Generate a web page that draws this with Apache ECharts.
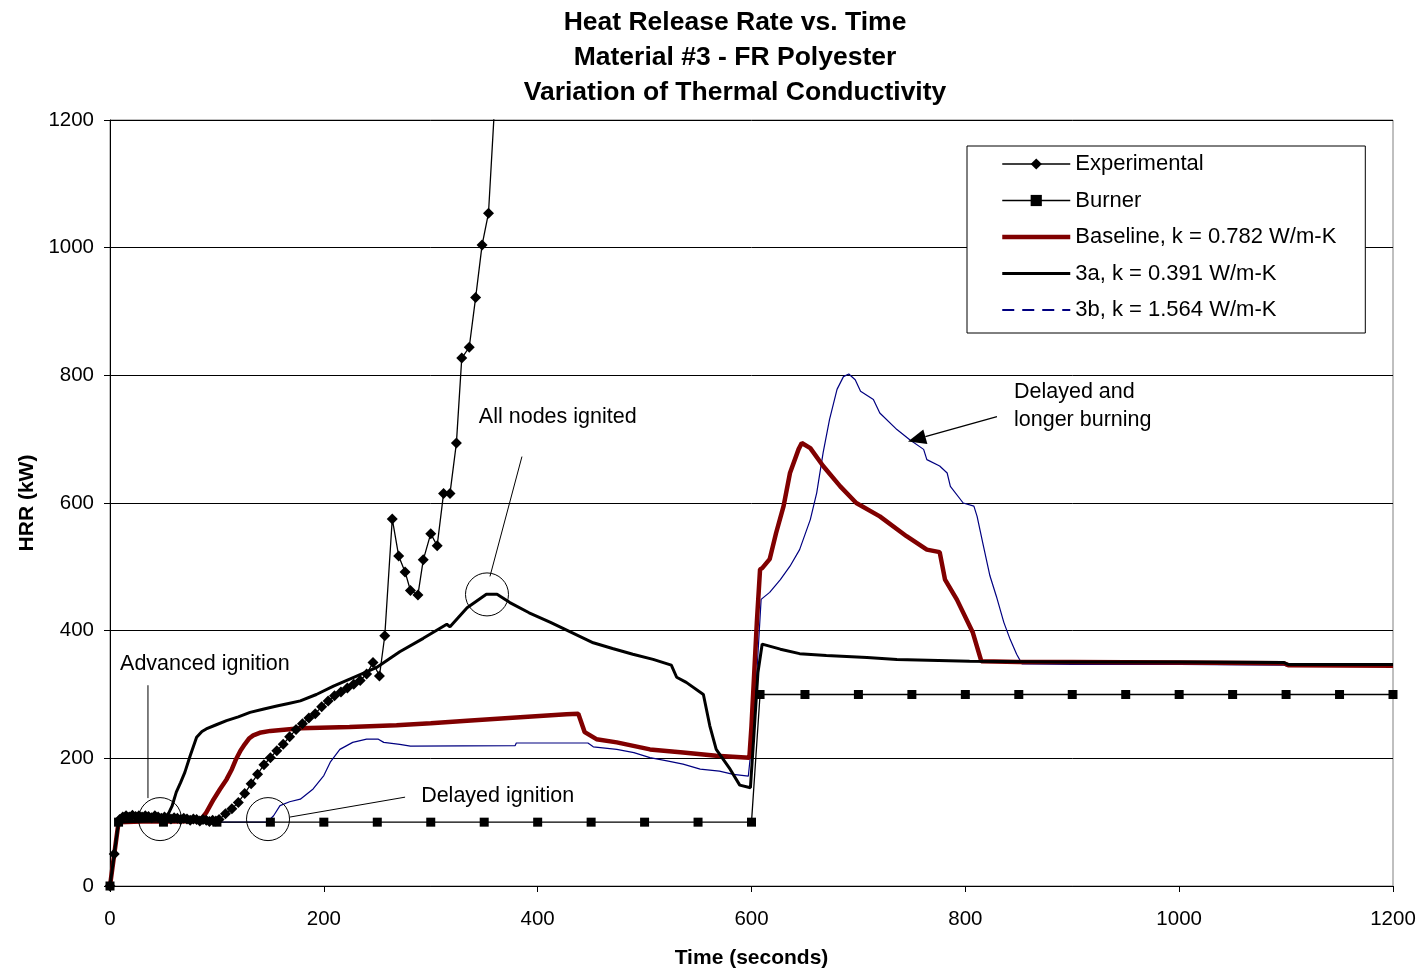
<!DOCTYPE html>
<html>
<head>
<meta charset="utf-8">
<script src="https://cdn.jsdelivr.net/npm/echarts@6/dist/echarts.min.js"></script>
<style>
  html, body { margin: 0; padding: 0; background: #fff; }
  #chart { width: 1422px; height: 974px; }
</style>
</head>
<body>
<div id="chart"></div>
<script>
// Heat release rate of Material #3 (FR polyester): test data, burner input
// and three model runs with different thermal conductivity.

const titleLines = [
  'Heat Release Rate vs. Time',
  'Material #3 - FR Polyester',
  'Variation of Thermal Conductivity'
];
const xAxisName = 'Time (seconds)';
const yAxisName = 'HRR (kW)';
const xRange = [0, 1200];
const yRange = [0, 1200];
const tickStep = 200;

const seriesNames = [
  'Experimental',
  'Burner',
  'Baseline, k = 0.782 W/m-K',
  '3a, k = 0.391 W/m-K',
  '3b, k = 1.564 W/m-K'
];

// [time s, HRR kW]
const experimental = [
  [0, 0], [4, 50], [9, 104], [12, 108], [15, 110], [18, 108], [21, 111], [24, 109],
  [27, 110], [30, 108], [33, 110], [36, 109], [39, 107], [42, 110], [45, 108], [48, 106],
  [51, 108], [54, 107], [57, 105], [60, 107], [63, 106], [66, 104], [69, 106], [72, 105],
  [75, 103], [78, 105], [81, 104], [84, 102], [87, 104], [90, 103], [93, 101], [96, 103],
  [99, 102], [102, 104], [108, 113], [114, 121], [120, 131], [126, 145], [132, 160],
  [138, 175], [144, 190], [150, 201], [156, 212], [162, 222], [168, 234], [174, 245],
  [180, 254], [186, 263], [192, 270], [198, 281], [204, 290], [210, 298], [216, 304],
  [222, 310], [228, 316], [234, 322], [240, 332], [246, 350], [252, 329], [257, 392],
  [264, 575], [270, 517], [276, 492], [281, 463], [288, 456], [293, 511], [300, 552],
  [306, 533], [312, 615], [318, 615], [324, 694], [329, 827], [336, 844], [342, 922],
  [348, 1004], [354, 1054], [361, 1260]
];

const burner = [
  [0, 0], [8, 100], [50, 100], [100, 100], [150, 100], [200, 100], [250, 100], [300, 100],
  [350, 100], [400, 100], [450, 100], [500, 100], [550, 100], [600, 100], [608, 300],
  [650, 300], [700, 300], [750, 300], [800, 300], [850, 300], [900, 300], [950, 300],
  [1000, 300], [1050, 300], [1100, 300], [1150, 300], [1200, 300]
];

const baseline = [
  [0, 0], [8, 100], [30, 101], [60, 101], [84, 102], [90, 115], [97, 136], [103, 152],
  [109, 167], [114, 183], [118, 199], [122, 212], [126, 222], [130, 231], [134, 236],
  [140, 240], [150, 243], [178, 247], [224, 249], [268, 252], [300, 255], [334, 259],
  [380, 264], [427, 269], [438, 270], [444, 241], [455, 230], [474, 225], [505, 214],
  [536, 209], [567, 204], [598, 201], [600, 251], [605, 413], [608, 496], [610, 498],
  [617, 512], [623, 553], [630, 595], [636, 647], [644, 684], [647, 694], [655, 686],
  [667, 658], [683, 626], [698, 600], [720, 579], [745, 548], [764, 527], [776, 523],
  [781, 480], [792, 449], [807, 397], [815, 352], [850, 351], [900, 351], [1000, 350],
  [1098, 349], [1102, 346], [1200, 345]
];

const run3a = [
  [0, 0], [8, 100], [30, 102], [52, 104], [58, 125], [62, 147], [66, 162], [70, 178],
  [75, 204], [81, 233], [86, 242], [90, 246], [100, 253], [109, 259], [120, 265],
  [131, 272], [143, 277], [156, 282], [167, 286], [178, 290], [193, 300], [209, 313],
  [228, 327], [249, 342], [271, 367], [293, 388], [315, 410], [318, 406], [334, 436],
  [352, 457], [362, 457], [374, 444], [392, 428], [412, 413], [432, 397], [452, 381],
  [470, 372], [489, 363], [508, 355], [525, 346], [530, 327], [539, 319], [555, 300],
  [561, 251], [567, 214], [580, 183], [589, 158], [599, 154], [602, 230], [606, 334],
  [610, 379], [627, 371], [645, 364], [670, 361], [708, 358], [736, 355], [804, 352],
  [889, 351], [1000, 351], [1098, 350], [1102, 347], [1200, 347]
];

const run3b = [
  [0, 0], [8, 100], [60, 100], [120, 100], [147, 100], [153, 110], [159, 126], [168, 132],
  [178, 136], [190, 152], [200, 173], [206, 194], [215, 214], [227, 225], [240, 230],
  [251, 230], [256, 225], [271, 222], [281, 219], [379, 220], [380, 224], [447, 224],
  [452, 218], [474, 214], [490, 209], [505, 201], [521, 196], [536, 191], [552, 183],
  [570, 180], [583, 175], [597, 172], [599, 204], [605, 334], [609, 449], [617, 460],
  [627, 480], [636, 501], [645, 527], [655, 574], [661, 616], [667, 679], [673, 731],
  [680, 778], [686, 798], [691, 802], [697, 793], [702, 775], [714, 762], [720, 741],
  [736, 715], [748, 699], [761, 684], [764, 668], [776, 658], [783, 647], [786, 626],
  [798, 600], [808, 595], [811, 579], [817, 532], [823, 486], [829, 454], [836, 413],
  [842, 386], [848, 363], [853, 348], [900, 347], [1000, 347], [1098, 346], [1102, 344],
  [1200, 344]
];

// Callout texts, circles and leader lines, anchored in data units
const callouts = [
  { text: 'All nodes ignited', at: [345, 734] },
  { text: 'Advanced ignition', at: [9.4, 347] },
  { text: 'Delayed ignition', at: [291, 141] },
  { text: 'Delayed and\nlonger burning', at: [845.5, 752.5] }
];
const rings = [[46.8, 104.8], [147.8, 104.8], [352.6, 456.8]];
const leaders = [
  [[385.3, 672.7], [355.4, 485]],
  [[35.5, 314.5], [35.5, 137.7]],
  [[168.3, 108], [276, 139.2]]
];
const arrows = [[[829.6, 735.3], [746.4, 696.2]]];

const FONT = '"Liberation Sans", Arial, Helvetica, sans-serif';
const RED = '#800000';
const NAVY = '#000080';

const chart = echarts.init(document.getElementById('chart'), null, { renderer: 'canvas' });

const axisCommon = {
  type: 'value',
  interval: tickStep,
  axisLine: { show: true, lineStyle: { color: '#000', width: 1 } },
  axisTick: { show: true, inside: false, length: 6, lineStyle: { color: '#000' } },
  axisLabel: { color: '#000', fontFamily: FONT, fontSize: 20.5, formatter: v => String(v) },
  nameLocation: 'middle',
  nameTextStyle: { color: '#000', fontFamily: FONT, fontSize: 21, fontWeight: 'bold' }
};

const hideSymbol = { opacity: 0 };

const option = {
  animation: false,
  backgroundColor: '#fff',
  title: {
    text: titleLines.join('\n'),
    left: 735,
    top: 5,
    padding: 0,
    textAlign: 'center',
    textStyle: { fontFamily: FONT, fontSize: 26.5, fontWeight: 'bold', color: '#000', lineHeight: 35 }
  },
  grid: {
    left: 110, right: 29, top: 120, bottom: 87,
    show: true, borderColor: '#808080', borderWidth: 1, backgroundColor: 'transparent'
  },
  xAxis: Object.assign({}, axisCommon, {
    min: xRange[0], max: xRange[1],
    splitLine: { show: false },
    axisLabel: Object.assign({}, axisCommon.axisLabel, { margin: 23 }),
    name: xAxisName, nameGap: 62
  }),
  yAxis: Object.assign({}, axisCommon, {
    min: yRange[0], max: yRange[1],
    splitLine: { show: true, lineStyle: { color: '#000', width: 1 } },
    axisLabel: Object.assign({}, axisCommon.axisLabel, { margin: 16 }),
    name: yAxisName, nameGap: 72
  }),
  legend: {
    orient: 'vertical',
    left: 967, top: 146,
    padding: [6, 29, 11, 33],
    itemWidth: 68, itemHeight: 14, itemGap: 12.5,
    backgroundColor: '#fff', borderColor: '#000', borderWidth: 1, borderRadius: 0,
    textStyle: { fontFamily: FONT, fontSize: 22, color: '#000', lineHeight: 24 },
    data: [
      { name: seriesNames[0], lineStyle: { width: 1.3 } },
      { name: seriesNames[1], lineStyle: { width: 1.3 } },
      { name: seriesNames[2], lineStyle: { width: 4.5 }, itemStyle: hideSymbol },
      { name: seriesNames[3], lineStyle: { width: 3 }, itemStyle: hideSymbol },
      { name: seriesNames[4], lineStyle: { type: [12, 8], width: 2 }, itemStyle: hideSymbol }
    ]
  },
  series: [
    {
      name: seriesNames[4], type: 'line', data: run3b, z: 2,
      symbol: 'none', lineStyle: { color: NAVY, width: 1.2 }, itemStyle: { color: NAVY },
      emphasis: { disabled: true }
    },
    {
      name: seriesNames[2], type: 'line', data: baseline, z: 3,
      symbol: 'none', lineStyle: { color: RED, width: 4.5 }, itemStyle: { color: RED },
      emphasis: { disabled: true }
    },
    {
      name: seriesNames[3], type: 'line', data: run3a, z: 4,
      symbol: 'none', lineStyle: { color: '#000', width: 3 }, itemStyle: { color: '#000' },
      emphasis: { disabled: true }
    },
    {
      name: seriesNames[1], type: 'line', data: burner, z: 5,
      symbol: 'rect', symbolSize: 9, showAllSymbol: true,
      lineStyle: { color: '#000', width: 1.3 }, itemStyle: { color: '#000' },
      emphasis: { disabled: true }
    },
    {
      name: seriesNames[0], type: 'line', data: experimental, z: 6,
      symbol: 'diamond', symbolSize: 11, showAllSymbol: true,
      lineStyle: { color: '#000', width: 1.3 }, itemStyle: { color: '#000' },
      emphasis: { disabled: true }
    }
  ]
};

chart.setOption(option);

// Callouts are placed after layout so they follow the axes
const px = p => chart.convertToPixel({ gridIndex: 0 }, p);
const graphics = [];

callouts.forEach(c => {
  const [x, y] = px(c.at);
  graphics.push({
    type: 'text', x: x, y: y, z: 100,
    style: {
      text: c.text, fill: '#000', font: '21.5px ' + FONT,
      align: 'left', verticalAlign: 'middle', lineHeight: 28
    }
  });
});

rings.forEach(r => {
  const [cx, cy] = px(r);
  graphics.push({
    type: 'circle', z: 100,
    shape: { cx: cx, cy: cy, r: 21.5 },
    style: { fill: 'transparent', stroke: '#000', lineWidth: 1 }
  });
});

leaders.forEach(l => {
  const [x1, y1] = px(l[0]);
  const [x2, y2] = px(l[1]);
  graphics.push({
    type: 'line', z: 100,
    shape: { x1: x1, y1: y1, x2: x2, y2: y2 },
    style: { stroke: '#000', lineWidth: 1 }
  });
});

arrows.forEach(a => {
  const [x1, y1] = px(a[0]);
  const [x2, y2] = px(a[1]);
  const ang = Math.atan2(y2 - y1, x2 - x1);
  const L = 18, W = 7.5;
  const bx = x2 - L * Math.cos(ang), by = y2 - L * Math.sin(ang);
  graphics.push({
    type: 'line', z: 100,
    shape: { x1: x1, y1: y1, x2: bx, y2: by },
    style: { stroke: '#000', lineWidth: 1.3 }
  });
  graphics.push({
    type: 'polygon', z: 100,
    shape: { points: [[x2, y2], [bx + W * Math.sin(ang), by - W * Math.cos(ang)], [bx - W * Math.sin(ang), by + W * Math.cos(ang)]] },
    style: { fill: '#000' }
  });
});

chart.setOption({ graphic: graphics });
</script>
</body>
</html>
